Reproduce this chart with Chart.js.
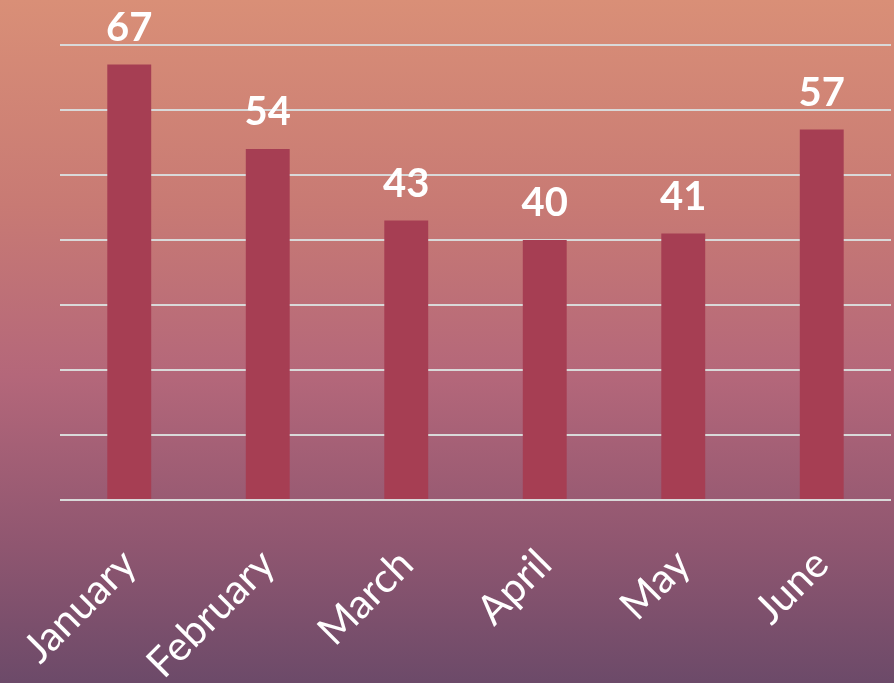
<!DOCTYPE html>
<html>
<head>
<meta charset="utf-8">
<script src="https://cdn.jsdelivr.net/npm/chart.js@4"></script>
<style>
  html, body { margin: 0; padding: 0; }
  body {
    width: 894px; height: 683px; overflow: hidden;
    background: linear-gradient(to bottom, #d98f77 0%, #c87a74 30%, #b4677a 55%, #8f5670 80%, #6c4a69 100%);
  }
</style>
</head>
<body>
<canvas id="chart" width="894" height="683"></canvas>
<script>
const months = ['January', 'February', 'March', 'April', 'May', 'June'];
const values = [67, 54, 43, 40, 41, 57];
const yTicks = [0, 10, 20, 30, 40, 50, 60, 70];

// draws the value above each bar (no datalabels plugin offline)
const valueLabels = {
    id: 'valueLabels',
    afterDatasetsDraw(chart) {
        const ctx = chart.ctx;
        const meta = chart.getDatasetMeta(0);
        ctx.save();
        ctx.font = 'bold 40px Lato, "Open Sans", sans-serif';
        ctx.fillStyle = '#ffffff';
        ctx.textAlign = 'center';
        ctx.textBaseline = 'alphabetic';
        meta.data.forEach((bar, i) => {
            ctx.fillText(values[i], bar.x, bar.y - 24);
        });
        ctx.restore();
    }
};

new Chart(document.getElementById('chart'), {
    type: 'bar',
    data: {
        labels: months,
        datasets: [{
            data: values,
            backgroundColor: '#a63e53',
            borderWidth: 0,
            categoryPercentage: 1,
            barPercentage: 0.317
        }]
    },
    options: {
        responsive: false,
        animation: false,
        devicePixelRatio: 1,
        layout: { padding: { left: 60, right: 3, top: 45, bottom: 0 } },
        plugins: { legend: { display: false }, tooltip: { enabled: false } },
        scales: {
            x: {
                grid: { display: false },
                border: { display: false },
                ticks: {
                    color: '#ffffff',
                    font: { family: 'Lato, "Open Sans", sans-serif', size: 41 },
                    minRotation: 45,
                    maxRotation: 45,
                    padding: 32
                },
                afterFit(scale) {
                    scale.height = 183;
                    scale.paddingLeft = 0;
                    scale.paddingRight = 0;
                }
            },
            y: {
                min: 0,
                max: 70,
                afterBuildTicks(scale) { scale.ticks = yTicks.map(v => ({ value: v })); },
                ticks: { display: false },
                border: { display: false },
                grid: { color: '#d9d9d9', lineWidth: 2, drawTicks: false },
                afterFit(scale) { scale.width = 0; }
            }
        }
    },
    plugins: [valueLabels]
});
</script>
</body>
</html>
